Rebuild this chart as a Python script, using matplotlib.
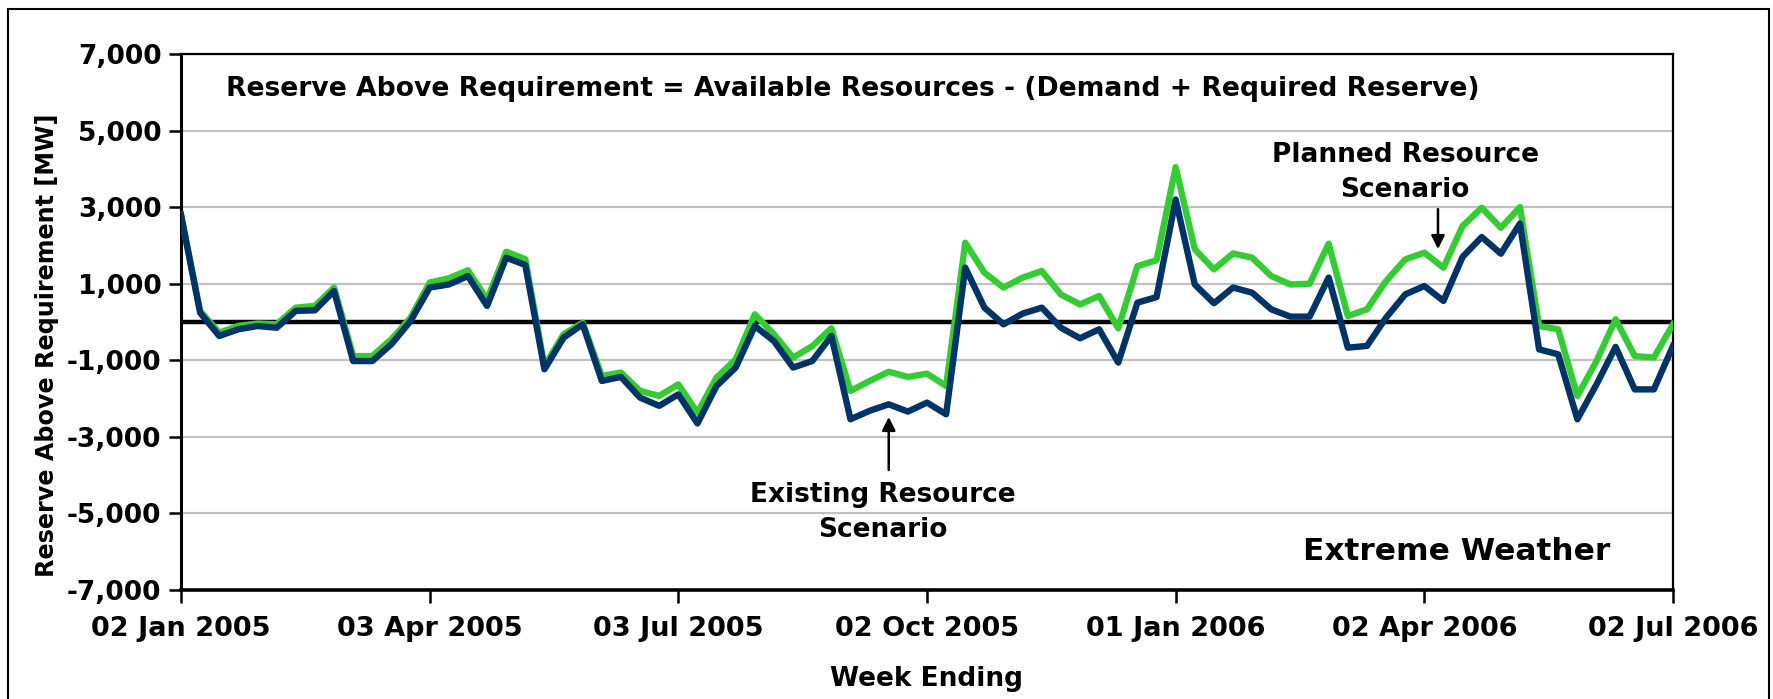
import numpy as np
import pandas as pd
import matplotlib
matplotlib.use("Agg")
from matplotlib import pyplot as plt
from matplotlib.patches import Rectangle

# weekly values, week ending 02 Jan 2005 .. 02 Jul 2006
weeks = pd.date_range("2005-01-02", periods=79, freq="7D")
existing = [2800, 240, -365, -190, -105, -150, 290, 305, 810, -1020,
            -1020, -580, 25, 900, 980, 1200, 420, 1680, 1490, -1235,
            -410, -60, -1540, -1435, -1975, -2190, -1890, -2650, -1670, -1190,
            -105, -500, -1190, -1020, -365, -2540, -2320, -2150, -2340, -2105,
            -2410, 1420, 375, -60, 220, 375, -150, -425, -190, -1060,
            505, 650, 3200, 980, 490, 900, 765, 330, 140, 140,
            1160, -670, -625, 113, 720, 940, 550, 1700, 2220, 1785,
            2570, -715, -845, -2540, -1630, -650, -1760, -1760, -625]
planned = [2800, 287, -280, -100, -40, -60, 375, 420, 900, -890,
           -890, -450, 110, 1030, 1140, 1350, 590, 1835, 1640, -1150,
           -320, -20, -1410, -1320, -1800, -1930, -1630, -2370, -1450, -975,
           200, -320, -930, -630, -165, -1800, -1540, -1300, -1435, -1350,
           -1670, 2070, 1290, 900, 1160, 1330, 720, 460, 680, -165,
           1460, 1610, 4045, 1900, 1375, 1790, 1680, 1200, 980, 1000,
           2045, 155, 330, 1070, 1635, 1810, 1420, 2505, 2985, 2460,
           3000, -105, -190, -1930, -1020, 70, -890, -930, -60]
tick_labels = ["02 Jan 2005", "03 Apr 2005", "03 Jul 2005", "02 Oct 2005",
               "01 Jan 2006", "02 Apr 2006", "02 Jul 2006"]
y_ticks = [7000, 5000, 3000, 1000, -1000, -3000, -5000, -7000]

W, H = 1773, 699
fig = plt.figure(figsize=(W / 100, H / 100), dpi=100)
ax = fig.add_axes([181 / W, 1 - 590 / H, (1673 - 181) / W, (590 - 54) / H])

fig.patches.append(Rectangle((8 / W, -0.05), (1769 - 8) / W, 1.05 - 9 / H,
                             transform=fig.transFigure, fill=False,
                             edgecolor="black", linewidth=1.5))

for yv in y_ticks:
    ax.axhline(yv, color="#c0c0c0", linewidth=1.6, zorder=1)
ax.axhline(0, color="black", linewidth=3.2, zorder=2)

ax.plot(weeks, planned, color="#33cc33", linewidth=4.6, zorder=3)
ax.plot(weeks, existing, color="#003366", linewidth=4.6, zorder=4)

ax.set_xlim(weeks[0], weeks[-1])
ax.set_ylim(-7000, 7000)
ax.set_yticks(y_ticks)
ax.set_yticklabels(["{:,}".format(v) for v in y_ticks])
ax.set_xticks(weeks[::13])
ax.set_xticklabels(tick_labels)
for s in ax.spines.values():
    s.set_color("black")
    s.set_linewidth(1.6)
ax.spines["left"].set_linewidth(2.2)
ax.spines["bottom"].set_linewidth(2.6)
ax.tick_params(axis="both", direction="out", length=9, width=1.8)
ax.tick_params(axis="x", pad=10, labelsize=19.5)
ax.tick_params(axis="y", pad=5, labelsize=19)
for lab in ax.get_xticklabels() + ax.get_yticklabels():
    lab.set_fontweight("bold")

ax.set_ylabel("Reserve Above Requirement [MW]", fontsize=17.2, fontweight="bold")
ax.yaxis.set_label_coords(-0.082, 0.457)
ax.set_xlabel("Week Ending", fontsize=19, fontweight="bold", labelpad=17)

ax.text(0.030, 0.935, "Reserve Above Requirement = Available Resources - (Demand + Required Reserve)",
        transform=ax.transAxes, fontsize=19.2, fontweight="bold", va="center")
ax.text(0.958, 0.071, "Extreme Weather", transform=ax.transAxes,
        fontsize=22.5, fontweight="bold", ha="right", va="center")

ax.text(weeks[37] - pd.Timedelta(days=2), -4975, "Existing Resource\nScenario",
        ha="center", va="center", fontsize=19, fontweight="bold",
        linespacing=1.45)
ax.annotate("", xy=(weeks[37], -2480), xytext=(weeks[37], -3865),
            arrowprops=dict(arrowstyle="-|>", color="black", lw=1.8,
                            mutation_scale=20, shrinkA=0, shrinkB=0))
ax.text(weeks[64], 3900, "Planned Resource\nScenario",
        ha="center", va="center", fontsize=19, fontweight="bold",
        linespacing=1.45)
ax.annotate("", xy=(weeks[65] + pd.Timedelta(days=5), 1905),
            xytext=(weeks[65] + pd.Timedelta(days=5), 2950),
            arrowprops=dict(arrowstyle="-|>", color="black", lw=1.8,
                            mutation_scale=20, shrinkA=0, shrinkB=0))

fig.savefig("out.png", dpi=100)
